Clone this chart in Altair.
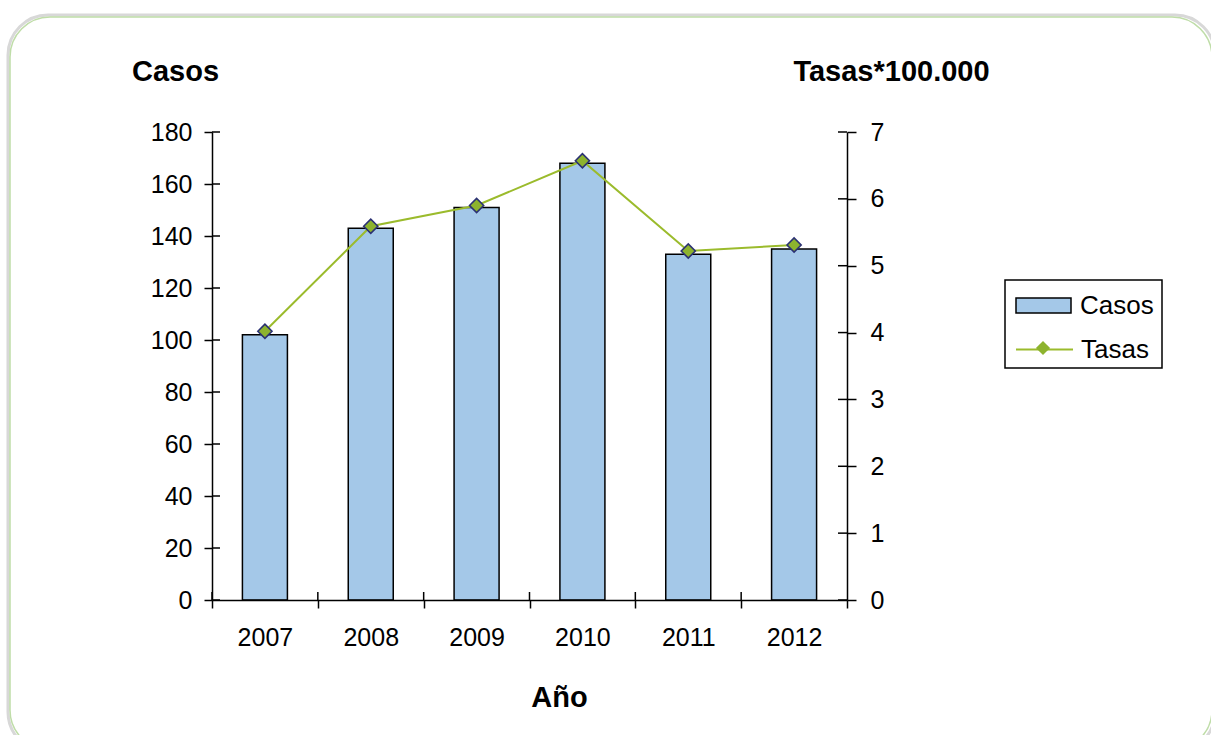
import altair as alt
import pandas as pd

years = ["2007", "2008", "2009", "2010", "2011", "2012"]
casos = [102, 143, 151, 168, 133, 135]
tasas = [4.02, 5.59, 5.90, 6.57, 5.22, 5.31]
left_ticks = [0, 20, 40, 60, 80, 100, 120, 140, 160, 180]
right_ticks = [0, 1, 2, 3, 4, 5, 6, 7]

df = pd.DataFrame({
    "anio": years,
    "Casos": casos,
    "Tasas": tasas,
    "s_bar": ["Casos"] * len(years),
    "s_line": ["Tasas"] * len(years),
    "s_pt": ["Tasas "] * len(years),
})
one = pd.DataFrame({"k": [0]})
lt = pd.DataFrame({"Casos": left_ticks})
rt = pd.DataFrame({"Tasas": right_ticks})

W, H = 635, 468
FONT = "Liberation Sans"
BAR_FILL = "#A4C8E8"
LINE_COL = "#9BBB2C"
PT_FILL = "#8DB32E"
PT_STROKE = "#2B3173"

x_axis = alt.Axis(
    title="Año", labelAngle=0, tickBand="extent", tickSize=8,
    labelPadding=17, labelFontSize=25, titleFontSize=29, titleFontWeight="bold",
    titleX=347, titleY=106, titleBaseline="alphabetic", titleAlign="center",
    domainColor="black", tickColor="black", domainWidth=1.5, tickWidth=1.5,
    labelColor="black", titleColor="black", grid=False, zindex=1,
)
x_scale = alt.Scale(paddingInner=0, paddingOuter=0)
x_enc = alt.X("anio:N", sort=years, scale=x_scale, axis=x_axis)

# decorative shadow + frame
shadow = alt.Chart(one).mark_rect(
    fillOpacity=0, stroke="#D8D8D8", strokeWidth=3, cornerRadius=40
).encode(
    x=alt.value(-204), x2=alt.value(1003), y=alt.value(-117), y2=alt.value(620)
)
frame = alt.Chart(one).mark_rect(
    fill="white", stroke="#BFDDA8", strokeWidth=1.5, cornerRadius=40
).encode(
    x=alt.value(-202), x2=alt.value(1000), y=alt.value(-115), y2=alt.value(618)
)

# legend box
box = alt.Chart(one).mark_rect(
    fill="white", stroke="black", strokeWidth=1.5
).encode(
    x=alt.value(793), x2=alt.value(950), y=alt.value(148), y2=alt.value(236)
)

y_left_axis = alt.Axis(
    orient="left", values=left_ticks, title="Casos",
    titleAngle=0, titleX=-37, titleY=-52, titleAlign="center",
    titleBaseline="alphabetic", titleFontSize=29, titleFontWeight="bold",
    tickSize=8, labelPadding=12, labelFontSize=25, grid=False,
    domainColor="black", tickColor="black", domainWidth=1.5, tickWidth=1.5,
    labelColor="black", titleColor="black", zindex=1,
)
y_left_scale = alt.Scale(domain=[0, 180], nice=False)
y_left = alt.Y("Casos:Q", scale=y_left_scale, axis=y_left_axis)

bars = alt.Chart(df).mark_bar(
    width=45, stroke="black", strokeWidth=1.5
).encode(
    x=x_enc,
    y=y_left,
    fill=alt.Fill(
        "s_bar:N",
        scale=alt.Scale(domain=["Casos"], range=[BAR_FILL]),
        legend=alt.Legend(
            title=None, orient="none", legendX=803, legendY=145, padding=0,
            symbolType="M-1,-0.27H1V0.27H-1Z", symbolSize=3025,
            symbolStrokeColor="black", symbolStrokeWidth=1.5,
            labelFontSize=26, labelOffset=8, labelColor="black", labelFont=FONT,
        ),
    ),
)

# inner halves of the left axis' crossing ticks
lticks = alt.Chart(lt).mark_rule(color="black", strokeWidth=1.5).encode(
    y=alt.Y("Casos:Q", scale=y_left_scale, axis=y_left_axis),
    x=alt.value(0), x2=alt.value(8),
)

# inner halves of the x axis' crossing ticks
xticks = alt.Chart(df).mark_rule(color="black", strokeWidth=1.5).encode(
    x=alt.X("anio:N", sort=years, scale=x_scale, axis=x_axis, bandPosition=0),
    y=alt.value(H), y2=alt.value(H - 8),
)

y_right_axis = alt.Axis(
    orient="right", values=right_ticks, title="Tasas*100.000",
    titleAngle=0, titleX=44, titleY=-52, titleAlign="center",
    titleBaseline="alphabetic", titleFontSize=29, titleFontWeight="bold",
    tickSize=9, labelPadding=14, labelFontSize=25, grid=False,
    domainColor="black", tickColor="black", domainWidth=1.5, tickWidth=1.5,
    labelColor="black", titleColor="black", zindex=1,
)
y_right_scale = alt.Scale(domain=[0, 7], nice=False)
y_right = alt.Y("Tasas:Q", scale=y_right_scale, axis=y_right_axis)

rticks = alt.Chart(rt).mark_rule(color="black", strokeWidth=1.5).encode(
    y=y_right,
    x=alt.value(W - 9), x2=alt.value(W),
)

line = alt.Chart(df).mark_line(strokeWidth=2).encode(
    x=x_enc,
    y=y_right,
    stroke=alt.Stroke(
        "s_line:N",
        scale=alt.Scale(domain=["Tasas"], range=[LINE_COL]),
        legend=alt.Legend(
            title=None, orient="none", legendX=803, legendY=188, padding=0,
            symbolType="stroke", symbolSize=3249, symbolStrokeWidth=2,
            labelFontSize=26, labelOffset=7, labelColor="black", labelFont=FONT,
        ),
    ),
)

points = alt.Chart(df).mark_point(
    shape="diamond", filled=True, size=200, fill=PT_FILL, stroke=PT_STROKE,
    strokeWidth=1.6, opacity=1
).encode(
    x=x_enc,
    y=y_right,
    shape=alt.Shape(
        "s_pt:N",
        scale=alt.Scale(domain=["Tasas "], range=["diamond"]),
        legend=alt.Legend(
            title=None, orient="none", legendX=818, legendY=203, padding=0,
            symbolSize=200, symbolFillColor=PT_FILL, symbolStrokeColor=PT_STROKE,
            symbolStrokeWidth=1.6, labelExpr="''", labelFontSize=26,
        ),
    ),
)

chart = alt.layer(
    shadow, frame, box, alt.layer(bars, lticks, xticks), alt.layer(line, points, rticks)
).resolve_scale(
    y="independent"
).properties(
    width=W, height=H,
    autosize=alt.AutoSizeParams(type="none"),
    padding={"left": 212, "top": 132, "right": 364, "bottom": 135},
    background="white",
).configure(
    font=FONT
).configure_view(
    stroke=None
)

chart.save("out.html", embed_options={"renderer": "svg", "actions": False})
